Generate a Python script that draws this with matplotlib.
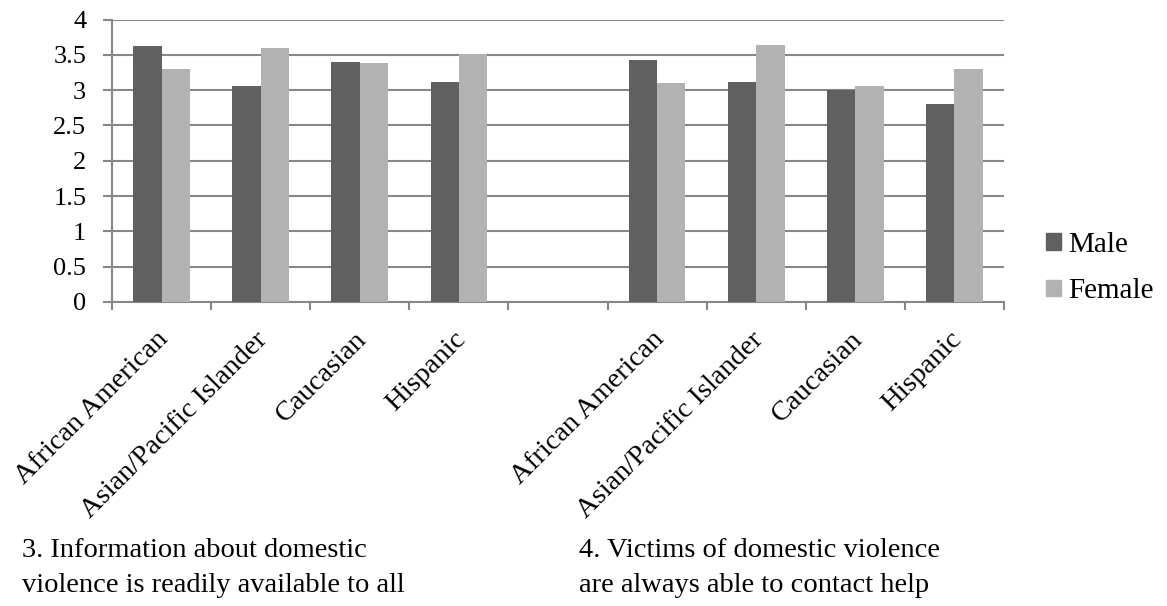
import numpy as np
import matplotlib
matplotlib.use("Agg")
import matplotlib.pyplot as plt
import matplotlib.transforms as mtransforms
from matplotlib.patches import Patch

plt.rcParams['font.family'] = ['Liberation Serif', 'DejaVu Serif']

# ratings per ethnic group, split by gender
groups = ["African American", "Asian/Pacific Islander", "Caucasian", "Hispanic"]
male_q3 = [3.63, 3.06, 3.40, 3.11]
female_q3 = [3.30, 3.59, 3.39, 3.51]
male_q4 = [3.43, 3.11, 3.00, 2.80]
female_q4 = [3.10, 3.64, 3.06, 3.30]
questions = ["3. Information about domestic\nviolence is readily available to all",
             "4. Victims of domestic violence\nare always able to contact help"]

MALE_COL = "#606060"
FEMALE_COL = "#b2b2b2"
GRID_COL = "#878787"

# two blocks of four slots with an empty slot between them
pos_q3 = np.arange(len(groups))
pos_q4 = np.arange(len(groups)) + len(groups) + 1
n_slots = 2 * len(groups) + 1
bw = 0.286

fig = plt.figure(figsize=(11.67, 6.06), dpi=100)
ax = fig.add_axes([112 / 1167, 1 - 302 / 606, (1004 - 112) / 1167, (302 - 19.5) / 606])

centers = np.concatenate([pos_q3, pos_q4]) + 0.5
male = male_q3 + male_q4
female = female_q3 + female_q4
ax.bar(centers - bw / 2, male, width=bw, color=MALE_COL, zorder=3)
ax.bar(centers + bw / 2, female, width=bw, color=FEMALE_COL, zorder=3)

ax.set_xlim(0, n_slots)
ax.set_ylim(0, 4)
ax.set_yticks(np.arange(0, 4.01, 0.5))
ax.set_yticklabels(["0", "0.5", "1", "1.5", "2", "2.5", "3", "3.5", "4"])
ax.yaxis.grid(True, color=GRID_COL, linewidth=1.5, zorder=0)

ax.set_xticks(centers)
ax.set_xticklabels(groups + groups, rotation=45, ha="right", va="top",
                   rotation_mode="anchor")
ax.set_xticks(np.arange(0, n_slots + 1), minor=True)
ax.tick_params(axis="x", which="major", length=0, pad=18, labelsize=20.5)
ax.tick_params(axis="x", which="minor", length=6, width=1.5, color=GRID_COL)
ax.tick_params(axis="y", length=6.5, width=1.5, color=GRID_COL, pad=12, labelsize=19)

# nudge the slanted labels a little to the left
shift = mtransforms.ScaledTranslation(-4 / 72, 0, fig.dpi_scale_trans)
for lbl in ax.get_xticklabels():
    lbl.set_transform(lbl.get_transform() + shift)

for side in ["top", "right"]:
    ax.spines[side].set_visible(False)
for side in ["left", "bottom"]:
    ax.spines[side].set_color(GRID_COL)
    ax.spines[side].set_linewidth(1.5)

# question captions under each block
fig.text(22 / 1167, 1 - 592 / 606, questions[0], fontsize=20.5,
         ha="left", va="baseline", linespacing=1.52)
fig.text(579 / 1167, 1 - 592 / 606, questions[1], fontsize=20.5,
         ha="left", va="baseline", linespacing=1.52)

handles = [Patch(color=MALE_COL), Patch(color=FEMALE_COL)]
fig.legend(handles, ["Male", "Female"], loc="center left",
           bbox_to_anchor=(1046 / 1167, 1 - 268 / 606), frameon=False,
           fontsize=21, handlelength=0.52, handleheight=0.5,
           handletextpad=0.24, labelspacing=0.7, borderpad=0,
           borderaxespad=0)

fig.savefig("out.png", dpi=100)
